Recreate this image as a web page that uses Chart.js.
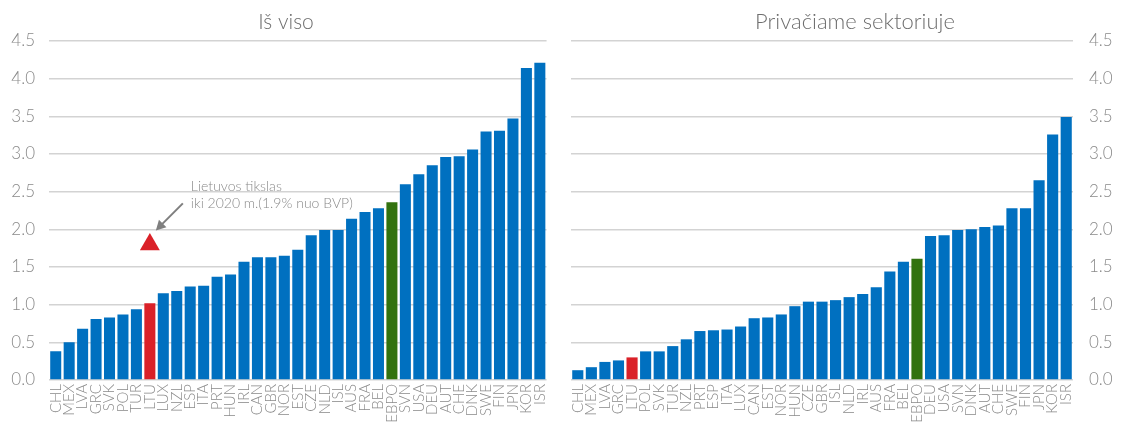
<!DOCTYPE html>
<html>
<head>
<meta charset="utf-8">
<script src="https://cdn.jsdelivr.net/npm/chart.js@4/dist/chart.umd.min.js"></script>
<style>
  html, body { margin: 0; padding: 0; background: #ffffff; }
  #wrap { display: flex; width: 1124px; height: 425px; }
  .box { position: relative; width: 562px; height: 425px; }
</style>
</head>
<body>
<div id="wrap">
  <div class="box"><canvas id="cTotal"></canvas></div>
  <div class="box"><canvas id="cPrivate"></canvas></div>
</div>
<script>
// ---- DATA ----
const titleTotal = 'Iš viso';
const titlePrivate = 'Privačiame sektoriuje';

const countriesTotal = ['CHL','MEX','LVA','GRC','SVK','POL','TUR','LTU','LUX','NZL','ESP','ITA','PRT','HUN','IRL','CAN','GBR','NOR','EST','CZE','NLD','ISL','AUS','FRA','BEL','EBPO','SVN','USA','DEU','AUT','CHE','DNK','SWE','FIN','JPN','KOR','ISR'];
const valuesTotal = [0.38,0.50,0.68,0.81,0.83,0.87,0.94,1.02,1.15,1.18,1.24,1.25,1.37,1.40,1.57,1.63,1.63,1.65,1.73,1.92,1.99,1.99,2.14,2.23,2.28,2.36,2.60,2.73,2.85,2.96,2.97,3.06,3.30,3.31,3.47,4.14,4.21];

const countriesPrivate = ['CHL','MEX','LVA','GRC','LTU','POL','SVK','TUR','NZL','PRT','ESP','ITA','LUX','CAN','EST','NOR','HUN','CZE','GBR','ISL','NLD','IRL','AUS','FRA','BEL','EBPO','DEU','USA','SVN','DNK','AUT','CHE','SWE','FIN','JPN','KOR','ISR'];
const valuesPrivate = [0.13,0.17,0.24,0.26,0.30,0.38,0.38,0.45,0.54,0.65,0.66,0.67,0.71,0.82,0.83,0.87,0.98,1.04,1.04,1.06,1.10,1.14,1.23,1.44,1.57,1.61,1.91,1.92,1.99,2.00,2.03,2.05,2.28,2.28,2.65,3.26,3.49];

const targetCountry = 'LTU';
const targetValue = 1.8;              // triangle marker as drawn
const annotationLines = ['Lietuvos tikslas', 'iki 2020 m.(1.9% nuo BVP)'];
const yTickValues = [0,0.5,1,1.5,2,2.5,3,3.5,4,4.5];

// ---- STYLE ----
const BLUE = '#0070C0', RED = '#DA2128', GREEN = '#32720F';
const GRID = '#d3d3d3', TICK = '#8a8a8a';
const FONT = "Lato, 'Noto Sans', sans-serif";

function barColors(labels) {
  return labels.map(l => l === 'LTU' ? RED : (l === 'EBPO' ? GREEN : BLUE));
}

const titlePlugin = {
  id: 'panelTitle',
  afterDraw(chart, args, opts) {
    const ctx = chart.ctx;
    ctx.save();
    ctx.font = '300 ' + opts.size + 'px ' + FONT;
    ctx.fillStyle = '#6e6e6e';
    ctx.textAlign = 'center';
    ctx.textBaseline = 'middle';
    ctx.fillText(opts.text, opts.x, 22);
    ctx.restore();
  }
};

const annotPlugin = {
  id: 'annot',
  afterDatasetsDraw(chart, args, opts) {
    if (!opts.show) return;
    const xs = chart.scales.x, ys = chart.scales.y;
    const idx = chart.data.labels.indexOf(targetCountry);
    const px = xs.getPixelForValue(idx);
    const py = ys.getPixelForValue(targetValue);
    const ctx = chart.ctx;
    ctx.save();
    // arrow
    const sx = px + 33, sy = py - 41, tx = px + 6, ty = py - 14;
    const ang = Math.atan2(ty - sy, tx - sx);
    ctx.strokeStyle = '#7f7f7f';
    ctx.fillStyle = '#7f7f7f';
    ctx.lineWidth = 2;
    ctx.beginPath();
    ctx.moveTo(sx, sy);
    ctx.lineTo(tx - 6 * Math.cos(ang), ty - 6 * Math.sin(ang));
    ctx.stroke();
    const hl = 11, hw = 0.5;
    ctx.beginPath();
    ctx.moveTo(tx, ty);
    ctx.lineTo(tx - hl * Math.cos(ang - hw), ty - hl * Math.sin(ang - hw));
    ctx.lineTo(tx - hl * Math.cos(ang + hw), ty - hl * Math.sin(ang + hw));
    ctx.closePath();
    ctx.fill();
    // text
    ctx.font = '300 14px ' + FONT;
    ctx.fillStyle = '#8a8a8a';
    ctx.textAlign = 'left';
    ctx.textBaseline = 'alphabetic';
    ctx.fillText(annotationLines[0], px + 41, py - 53);
    ctx.fillText(annotationLines[1], px + 41, py - 36);
    ctx.restore();
  }
};

function makeChart(id, labels, values, side, title, titleX, titleSize, withTarget) {
  const datasets = [{
    type: 'bar',
    data: values,
    backgroundColor: barColors(labels),
    borderWidth: 0,
    categoryPercentage: 1.0,
    barPercentage: 0.82,
    order: 2
  }];
  if (withTarget) {
    datasets.push({
      type: 'line',
      data: labels.map(l => l === targetCountry ? targetValue : null),
      showLine: false,
      pointStyle: 'triangle',
      pointRadius: 11.5,
      pointHoverRadius: 11.5,
      pointBackgroundColor: RED,
      pointBorderColor: RED,
      pointBorderWidth: 0,
      order: 1
    });
  }
  return new Chart(document.getElementById(id), {
    data: { labels: labels, datasets: datasets },
    plugins: [titlePlugin, annotPlugin],
    options: {
      responsive: true,
      maintainAspectRatio: false,
      animation: false,
      events: [],
      layout: {
        padding: side === 'left'
          ? { left: 0, right: 7, top: 41, bottom: 0 }
          : { left: 9, right: 0, top: 41, bottom: 0 }
      },
      plugins: {
        legend: { display: false },
        tooltip: { enabled: false },
        title: { display: false },
        panelTitle: { text: title, x: titleX, size: titleSize },
        annot: { show: withTarget }
      },
      scales: {
        x: {
          offset: true,
          grid: { display: false, drawTicks: false },
          border: { display: false },
          ticks: {
            autoSkip: false,
            maxRotation: 90,
            minRotation: 90,
            padding: 4,
            color: TICK,
            font: { family: FONT, size: 15, weight: '300' }
          },
          afterFit: s => { s.height = 45; }
        },
        y: {
          position: side,
          min: 0,
          max: 4.5,
          afterBuildTicks: s => { s.ticks = yTickValues.map(v => ({ value: v })); },
          grid: { color: GRID, lineWidth: 1.6, drawTicks: false },
          border: { display: false },
          ticks: {
            padding: side === 'left' ? 14 : 16,
            color: TICK,
            font: { family: FONT, size: 17, weight: '300' },
            callback: v => Number(v).toFixed(1)
          },
          afterFit: s => { s.width = side === 'left' ? 49 : 51; }
        }
      }
    }
  });
}

makeChart('cTotal', countriesTotal, valuesTotal, 'left', titleTotal, 286, 21, true);
makeChart('cPrivate', countriesPrivate, valuesPrivate, 'right', titlePrivate, 293, 22, false);
</script>
</body>
</html>
